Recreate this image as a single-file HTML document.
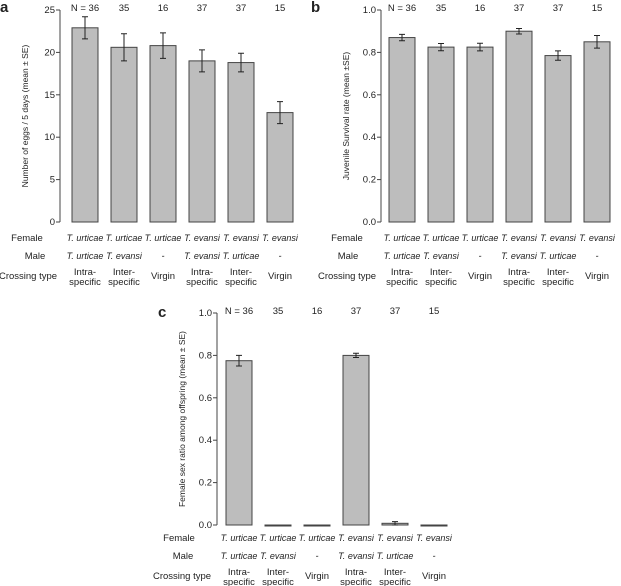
<!DOCTYPE html>
<html><head><meta charset="utf-8"><style>
body{margin:0;background:#fff}
svg{display:block;font-family:"Liberation Sans",sans-serif;}
text{fill:#222;font-size:9.5px}
text.it{font-size:9px}
</style></head><body>
<svg id="s" width="621" height="586" viewBox="0 0 621 586" xmlns="http://www.w3.org/2000/svg"></svg>
<script>
const categories=["1","2","3","4","5","6"];
const nLabels=["N = 36","35","16","37","37","15"];
const females=["T. urticae","T. urticae","T. urticae","T. evansi","T. evansi","T. evansi"];
const males=["T. urticae","T. evansi","-","T. evansi","T. urticae","-"];
const cross1=["Intra-","Inter-","Virgin","Intra-","Inter-","Virgin"];
const cross2=["specific","specific","","specific","specific",""];
const eggsMean=[22.9,20.6,20.8,19.0,18.8,12.9];
const eggsSE=[1.3,1.6,1.5,1.3,1.1,1.3];
const eggsTicks=[0,5,10,15,20,25];
const survMean=[0.87,0.825,0.825,0.90,0.785,0.85];
const survSE=[0.015,0.017,0.018,0.013,0.022,0.03];
const ratioMean=[0.775,0,0,0.80,0.008,0];
const ratioSE=[0.025,0,0,0.01,0.008,0];
const propTicks=[0,0.2,0.4,0.6,0.8,1.0];

const svg=document.getElementById('s');
const NS='http://www.w3.org/2000/svg';
function el(t,a,txt){const e=document.createElementNS(NS,t);for(const k in a)e.setAttribute(k,a[k]);if(txt!==undefined)e.textContent=txt;svg.appendChild(e);return e;}

function panel(o){
  const y=v=>o.y0-(v-o.min)/(o.max-o.min)*(o.y0-o.y1);
  const xc=i=>o.x0+i*39;
  let e=el('text',{x:o.lx,y:o.ly,'font-weight':'bold',style:'font-size:15px'},o.letter);
  
  
  e=el('line',{x1:o.ax,x2:o.ax,y1:y(o.max),y2:y(o.min),stroke:'#444','stroke-width':1});
  
  
  o.ticks.forEach(t=>{
    el('line',{x1:o.ax-4,x2:o.ax,y1:y(t),y2:y(t),stroke:'#444'});
    e=el('text',{x:o.ax-5,y:y(t)+3,'text-anchor':'end'},o.fmt(t));
    
    
  });
  const my=(y(o.max)+y(o.min))/2;
  e=el('text',{x:o.ax-32,y:my,'text-anchor':'middle',transform:`rotate(-90 ${o.ax-32} ${my})`,style:'font-size:8.5px'},o.title);
  
  
  categories.forEach((c,i)=>{
    const cx=xc(i);
    const top=y(o.mean[i]), bot=y(0);
    e=el('rect',{x:cx-13,y:top,width:26,height:Math.max(bot-top,1),fill:'#bdbdbd',stroke:'#444','stroke-width':1});
    
    
    if(o.se[i]>0){
      const a=y(o.mean[i]+o.se[i]),b=y(o.mean[i]-o.se[i]);
      e=el('path',{d:`M${cx} ${a}V${b}M${cx-3} ${a}H${cx+3}M${cx-3} ${b}H${cx+3}`,stroke:'#222',fill:'none','stroke-width':1});
      
      
    }
    e=el('text',{x:cx,y:y(o.max)+1,'text-anchor':'middle'},nLabels[i]);
    
    
    e=el('text',{x:cx,y:o.ry,'text-anchor':'middle','font-style':'italic',class:'it'},females[i]);
    
    
    e=el('text',{x:cx,y:o.ry+18,'text-anchor':'middle','font-style':'italic',class:'it'},males[i]);
    
    
    if(cross2[i]){
      el('text',{x:cx,y:o.ry+34,'text-anchor':'middle'},cross1[i]);
      e=el('text',{x:cx,y:o.ry+44,'text-anchor':'middle'},cross2[i]);
    } else e=el('text',{x:cx,y:o.ry+38,'text-anchor':'middle'},cross1[i]);
    
    
  });
  [['Female',0,o.fx],['Male',18,o.mx],['Crossing type',38,o.cx]].forEach(r=>{
    e=el('text',{x:r[2],y:o.ry+r[1],'text-anchor':'middle'},r[0]);
    
    
  });
}
panel({letter:'a',lx:0,ly:12,ax:60,x0:85,y0:222,y1:10,min:0,max:25,ticks:eggsTicks,fmt:t=>String(t),mean:eggsMean,se:eggsSE,title:'Number of eggs / 5 days (mean ± SE)',ry:241,fx:27,mx:35,cx:28});
panel({letter:'b',lx:311,ly:12,ax:381,x0:402,y0:222,y1:10,min:0,max:1,ticks:propTicks,fmt:t=>t.toFixed(1),mean:survMean,se:survSE,title:'Juvenile Survival rate (mean ±SE)',ry:241,fx:347,mx:348,cx:347});
panel({letter:'c',lx:158,ly:317,ax:217,x0:239,y0:525,y1:313,min:0,max:1,ticks:propTicks,fmt:t=>t.toFixed(1),mean:ratioMean,se:ratioSE,title:'Female sex ratio among offspring (mean ± SE)',ry:541,fx:179,mx:183,cx:182});
</script>
</body></html>
